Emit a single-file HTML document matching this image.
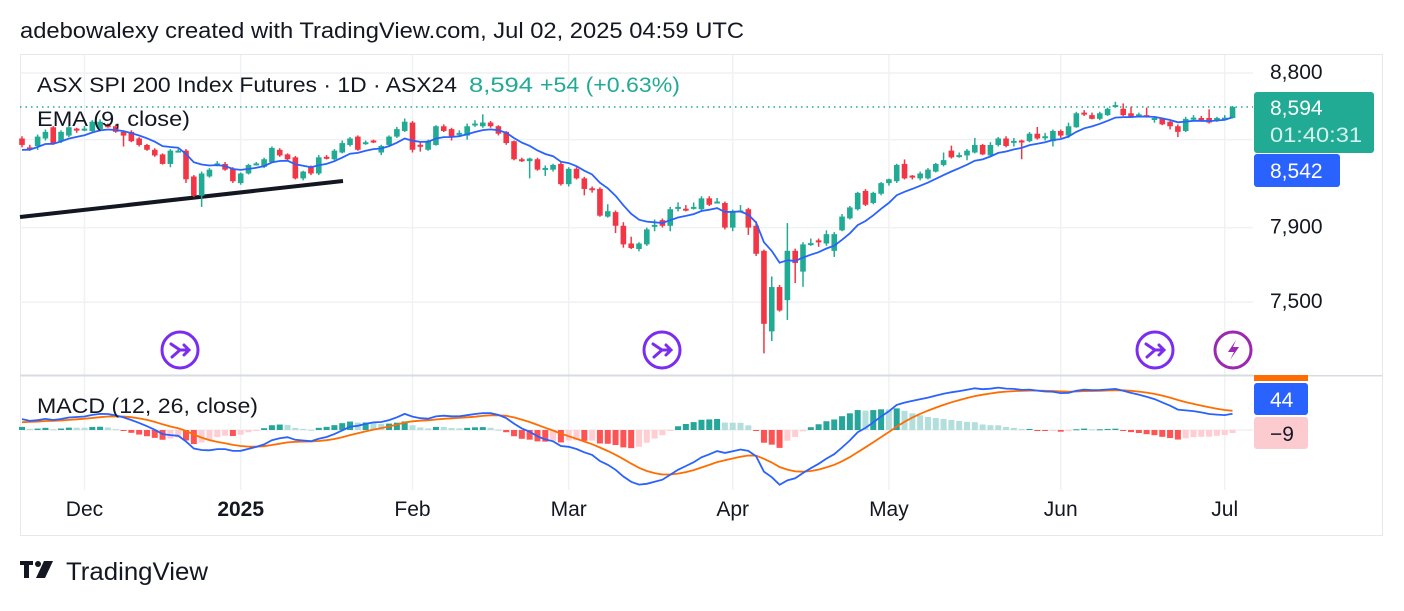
<!DOCTYPE html>
<html><head><meta charset="utf-8">
<style>
body{margin:0;background:#fff;width:1404px;height:606px;overflow:hidden;font-family:"Liberation Sans",sans-serif;}
svg text{font-family:"Liberation Sans",sans-serif;}
</style></head>
<body>
<svg id="chart" width="1404" height="606" viewBox="0 0 1404 606" xmlns="http://www.w3.org/2000/svg">
<text x="20" y="38" font-size="22" fill="#131722" textLength="724" lengthAdjust="spacingAndGlyphs">adebowalexy created with TradingView.com, Jul 02, 2025 04:59 UTC</text>
<rect x="20.5" y="54.5" width="1362" height="481" fill="none" stroke="#e6e8ec"/>
<g id="grid"></g>
<line x1="20" y1="375.5" x2="1382" y2="375.5" stroke="#d8dbe0" stroke-width="2"/>
<g id="trend"></g>
<g id="candles"></g>
<g id="macd"></g>
<text x="37" y="92" font-size="21" fill="#131722" textLength="420" lengthAdjust="spacingAndGlyphs">ASX SPI 200 Index Futures · 1D · ASX24</text>
<text x="469" y="92" font-size="21" fill="#22ab94" textLength="64" lengthAdjust="spacingAndGlyphs">8,594</text>
<text x="540" y="92" font-size="21" fill="#22ab94" textLength="140" lengthAdjust="spacingAndGlyphs">+54 (+0.63%)</text>
<text x="37" y="126" font-size="21" fill="#131722" textLength="153" lengthAdjust="spacingAndGlyphs">EMA (9, close)</text>
<text x="37" y="413" font-size="21" fill="#131722" textLength="221" lengthAdjust="spacingAndGlyphs">MACD (12, 26, close)</text>
<g id="axes"></g>
<g transform="translate(180,350)"><circle r="18" fill="#fff" stroke="#7a2df0" stroke-width="3"/><path d="M-9,-6 L0,0 L9,0 M4,-5 L9,0 L4,5 M0,0 L-8,7" fill="none" stroke="#7a2df0" stroke-width="3" stroke-linecap="round"/></g>
<g transform="translate(662,350)"><circle r="18" fill="#fff" stroke="#7a2df0" stroke-width="3"/><path d="M-9,-6 L0,0 L9,0 M4,-5 L9,0 L4,5 M0,0 L-8,7" fill="none" stroke="#7a2df0" stroke-width="3" stroke-linecap="round"/></g>
<g transform="translate(1155,350)"><circle r="18" fill="#fff" stroke="#7a2df0" stroke-width="3"/><path d="M-9,-6 L0,0 L9,0 M4,-5 L9,0 L4,5 M0,0 L-8,7" fill="none" stroke="#7a2df0" stroke-width="3" stroke-linecap="round"/></g>
<g transform="translate(1233,350)"><circle r="18" fill="#fff" stroke="#9c27b0" stroke-width="3"/><path d="M3,-10 L-5,2 L1,2 L-3,10 L6,-3 L0,-3 Z" fill="#9c27b0"/></g>
<rect x="1253" y="55" width="129" height="320" fill="#fff"/>
<g id="scale"></g>
<g>
<path d="M20,561 h13 v4 h-4 v13 h-5 v-13 h-4 Z" fill="#131722"/>
<circle cx="38" cy="564" r="3" fill="#131722"/>
<path d="M44,561 h9 l-8,17 h-9 Z" fill="#131722"/>
<text x="66" y="580" font-size="25" fill="#131722" textLength="142" lengthAdjust="spacingAndGlyphs">TradingView</text>
</g>
</svg>
<script>
const opens=[8407,8355,8363,8407,8473,8391,8424,8465,8455,8451,8462,8485,8479,8446,8446,8407,8369,8341,8314,8259,8330,8336,8187,8078,8187,8250,8259,8231,8149,8204,8255,8242,8270,8341,8314,8297,8176,8242,8204,8300,8286,8325,8369,8418,8375,8395,8325,8369,8418,8451,8501,8370,8341,8369,8479,8462,8430,8424,8485,8479,8501,8479,8446,8391,8286,8275,8286,8231,8226,8259,8143,8231,8176,8120,8116,7961,7986,7910,7813,7783,7808,7905,7941,7910,8010,8005,8005,8002,8063,8040,8037,7900,7990,8002,7910,7773,7348,7579,7510,7773,7661,7810,7830,7813,7773,7885,7951,8002,8105,8037,8089,8149,8160,8259,8192,8176,8176,8215,8253,8336,8305,8308,8325,8369,8308,8369,8407,8388,8395,8391,8435,8415,8391,8451,8424,8473,8560,8545,8523,8545,8600,8583,8556,8545,8545,8517,8523,8506,8479,8451,8525,8528,8528,8512,8525,8528];
const highs=[8420,8370,8430,8460,8480,8455,8480,8470,8480,8515,8520,8495,8490,8455,8455,8415,8375,8350,8320,8345,8345,8345,8195,8215,8235,8275,8270,8240,8210,8260,8270,8295,8360,8350,8320,8305,8220,8250,8310,8310,8345,8395,8415,8425,8395,8400,8370,8425,8475,8525,8510,8385,8400,8485,8490,8470,8455,8495,8515,8550,8510,8485,8450,8395,8295,8295,8295,8250,8260,8270,8240,8240,8185,8130,8125,8030,7995,7930,7850,7820,7900,7945,7950,8015,8040,8025,8040,8075,8075,8065,8045,8000,8025,8010,7935,7780,7635,7590,7925,7785,7820,7840,7840,7885,7875,7975,8020,8100,8115,8100,8155,8175,8260,8285,8195,8215,8235,8265,8325,8365,8325,8345,8410,8375,8385,8415,8420,8410,8400,8445,8475,8440,8460,8460,8500,8565,8575,8560,8565,8590,8625,8615,8595,8560,8590,8535,8530,8510,8490,8535,8545,8540,8580,8535,8545,8600];
const lows=[8355,8335,8340,8395,8370,8380,8415,8440,8450,8445,8455,8470,8440,8360,8385,8360,8335,8300,8255,8240,8325,8150,8070,8015,8180,8245,8220,8150,8140,8198,8250,8235,8265,8300,8280,8170,8165,8195,8195,8285,8280,8320,8360,8335,8370,8380,8310,8360,8410,8445,8325,8330,8335,8365,8445,8395,8415,8400,8475,8470,8470,8425,8370,8280,8270,8176,8220,8190,8215,8135,8130,8170,8080,8095,7960,7955,7870,7790,7783,7770,7800,7880,7900,7880,7990,7990,8000,7995,8020,8035,7890,7880,7985,7860,7745,7236,7299,7450,7407,7600,7580,7800,7795,7800,7740,7880,7945,7995,8020,8030,8080,8135,8150,8170,8170,8165,8170,8210,8245,8290,8295,8280,8320,8310,8300,8360,8355,8360,8286,8385,8400,8395,8360,8410,8410,8470,8540,8520,8515,8540,8590,8540,8530,8535,8530,8500,8485,8460,8415,8445,8515,8505,8495,8505,8515,8525];
const closes=[8369,8348,8418,8446,8380,8446,8473,8455,8465,8506,8506,8480,8446,8424,8391,8369,8341,8308,8259,8336,8336,8171,8078,8204,8226,8262,8226,8160,8204,8253,8262,8286,8352,8308,8286,8176,8215,8204,8297,8290,8336,8380,8407,8341,8385,8385,8363,8418,8462,8506,8341,8360,8391,8479,8451,8418,8440,8479,8495,8501,8479,8435,8380,8286,8275,8290,8226,8236,8253,8143,8231,8176,8116,8110,7966,7991,7910,7808,7788,7813,7890,7915,7910,8002,8015,8000,8015,8063,8027,8045,7900,7991,7995,7900,7757,7387,7579,7456,7773,7707,7808,7815,7820,7864,7864,7961,8012,8094,8027,8094,8149,8171,8253,8176,8182,8204,8226,8259,8281,8297,8310,8336,8369,8314,8369,8407,8363,8393,8385,8435,8407,8420,8451,8424,8479,8556,8550,8523,8556,8583,8605,8545,8534,8550,8534,8528,8490,8479,8446,8523,8530,8512,8501,8528,8530,8594];
const monthLabels=["Dec","2025","Feb","Mar","Apr","May","Jun","Jul"];
const monthIdx=[8,28,50,70,91,111,133,154];
const priceTicks=[8800,8400,7900,7500];
const priceTickLabels=["8,800","","7,900","7,500"];

const NS="http://www.w3.org/2000/svg";
function mk(tag,attrs,parent){const e=document.createElementNS(NS,tag);for(const k in attrs)e.setAttribute(k,attrs[k]);parent.appendChild(e);return e;}
const X0=22,DX=7.81;
function xAt(i){return X0+i*DX;}
function yP(p){return 73+1433*Math.log(8800/p);}
function yM(v){return 430-v*0.39;}

const grid=document.getElementById('grid');
monthIdx.forEach((mi,k)=>{
  const l=mk('line',{x1:xAt(mi),x2:xAt(mi),y1:55,y2:490,stroke:'#f0f1f4','stroke-width':1.5},grid);
  
  
});
priceTicks.forEach(p=>{
  const l=mk('line',{x1:20,x2:1253,y1:yP(p),y2:yP(p),stroke:'#f0f1f4','stroke-width':1.5},grid);
  
  
});
[0].forEach(v=>{
  const l=mk('line',{x1:20,x2:1253,y1:yM(v),y2:yM(v),stroke:'#f0f1f4','stroke-width':1.5},grid);
  
  
});

const tr=mk('line',{x1:20,y1:217,x2:343,y2:181,stroke:'#131722','stroke-width':4},document.getElementById('trend'));



const cg=document.getElementById('candles');
const last=closes[closes.length-1];
const pl=mk('line',{x1:20,x2:1253,y1:yP(last),y2:yP(last),stroke:'#22ab94','stroke-width':1.5,'stroke-dasharray':'1.5 4'},cg);


for(let i=0;i<closes.length;i++){
  const up=closes[i]>=opens[i];const col=up?'#22ab94':'#f23645';
  const x=xAt(i);
  const w=mk('line',{x1:x,x2:x,y1:yP(highs[i]),y2:yP(lows[i]),stroke:col,'stroke-width':1.5},cg);
  
  
  const t=Math.min(yP(opens[i]),yP(closes[i]));const h=Math.max(2,Math.abs(yP(opens[i])-yP(closes[i])));
  const b=mk('rect',{x:x-2.8,y:t,width:5.6,height:h,fill:col},cg);
  
  
}
let ema=8340;const emaPts=[];
closes.forEach((c,i)=>{ema=i===0?ema:ema+(c-ema)*0.2;emaPts.push(xAt(i).toFixed(1)+','+yP(ema).toFixed(1));});
const el=mk('polyline',{points:emaPts.join(' '),fill:'none',stroke:'#2962ff','stroke-width':1.8},cg);



const mg=document.getElementById('macd');
let e12=closes[0]+10,e26=closes[0]-18,sig=20,prevH=null;
const mPts=[],sPts=[];
closes.forEach((c,i)=>{
  if(i>0){e12+=(c-e12)*2/13;e26+=(c-e26)*2/27;}
  const m=e12-e26; if(i>0)sig+=(m-sig)*0.2;
  const h=m-sig;
  let col;
  if(h>=0)col=(prevH===null||h>=prevH)?'#26a69a':'#b2dfdb';else col=(prevH===null||h<=prevH)?'#ff5252':'#ffcdd2';
  prevH=h;
  const y0=yM(0),y1=yM(h);
  const r=mk('rect',{x:xAt(i)-3,y:Math.min(y0,y1),width:6,height:Math.max(1,Math.abs(y1-y0)),fill:col},mg);
  
  
  mPts.push(xAt(i).toFixed(1)+','+yM(m).toFixed(1));sPts.push(xAt(i).toFixed(1)+','+yM(sig).toFixed(1));
});
const sl=mk('polyline',{points:sPts.join(' '),fill:'none',stroke:'#ff6d00','stroke-width':1.8},mg);


const ml=mk('polyline',{points:mPts.join(' '),fill:'none',stroke:'#2962ff','stroke-width':1.8},mg);



const ax=document.getElementById('axes');
monthLabels.forEach((m,k)=>{
  const t=mk('text',{x:xAt(monthIdx[k]),y:516,'font-size':21,'text-anchor':'middle',fill:'#131722','font-weight':m==='2025'?'bold':'normal'},ax);
  t.textContent=m;
  
  
});

const sc=document.getElementById('scale');
priceTicks.forEach((p,k)=>{
  if(!priceTickLabels[k])return;
  const t=mk('text',{x:1270,y:yP(p)+6,'font-size':21,fill:'#131722'},sc);
  t.textContent=priceTickLabels[k];
  
  
});
sc.innerHTML+=`
<g><rect x="1254" y="92" width="120" height="61" rx="3" fill="#22ab94"/><text x="1270" y="115" font-size="21" fill="#fff">8,594</text><text x="1270" y="142" font-size="21" fill="#d3f1ec" textLength="92" lengthAdjust="spacingAndGlyphs">01:40:31</text></g>
<g><rect x="1254" y="154" width="86" height="33" rx="3" fill="#2962ff"/><text x="1270" y="178" font-size="21" fill="#fff">8,542</text></g>
<rect x="1254" y="375" width="54" height="6" fill="#ff6d00"/>
<g><rect x="1254" y="383" width="54" height="32" rx="3" fill="#2962ff"/><text x="1270" y="407" font-size="21" fill="#fff">44</text></g>
<g><rect x="1254" y="417" width="54" height="32" rx="3" fill="#fccbd0"/><text x="1270" y="441" font-size="21" fill="#131722">−9</text></g>`;
</script>
</body></html>
